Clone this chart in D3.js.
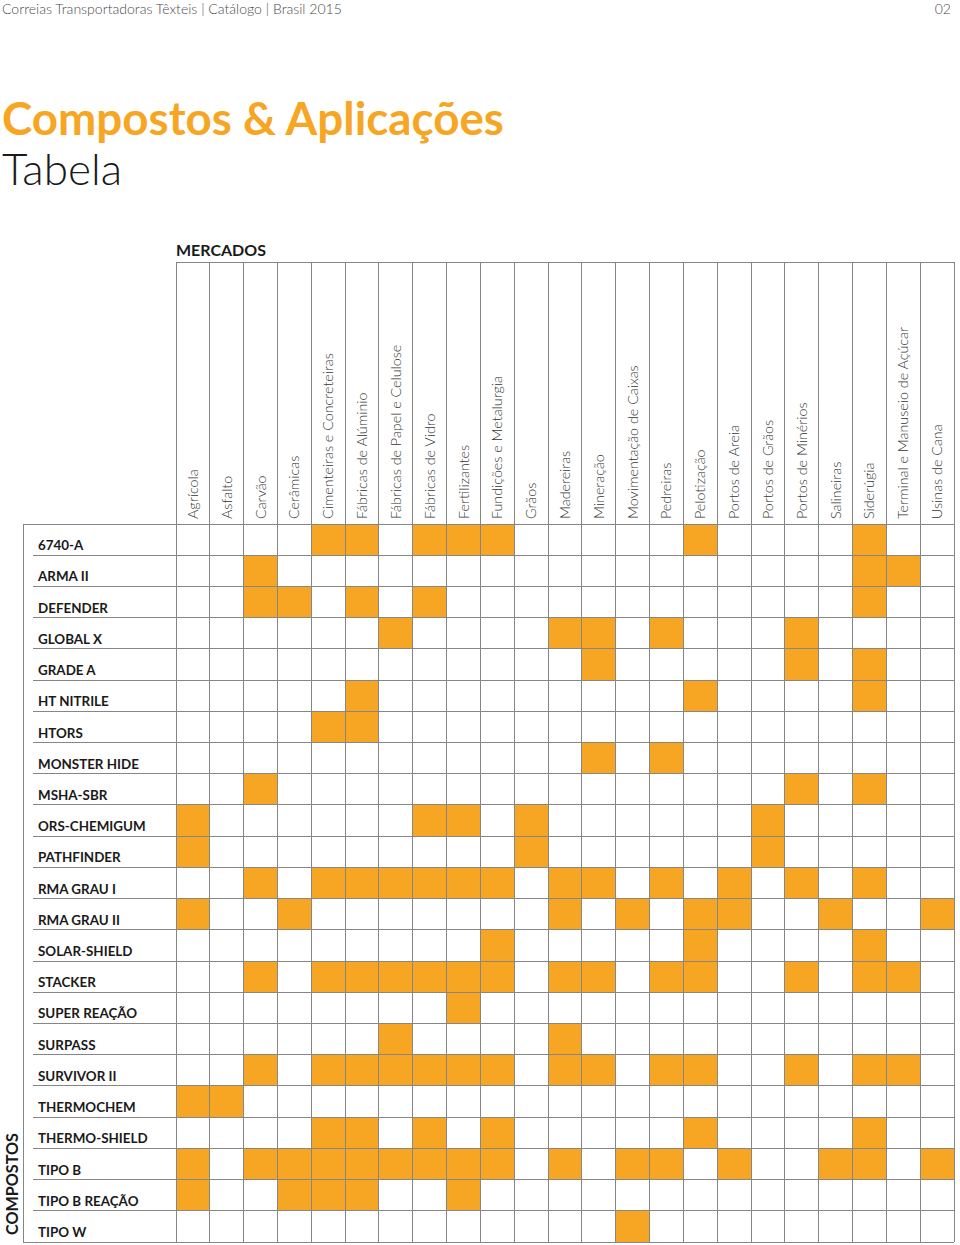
<!DOCTYPE html>
<html>
<head>
<meta charset="utf-8">
<script src="https://d3js.org/d3.v7.min.js"></script>
<style>
  body { margin: 0; background: #fff; }
  svg { display: block; font-family: Lato, "Open Sans", sans-serif; }
</style>
</head>
<body>
<div id="chart"></div>
<script>
// Markets (columns) and compounds (rows) of the table
var markets = ["Agrícola", "Asfalto", "Carvão", "Cerâmicas", "Cimenteiras e Concreteiras",
  "Fábricas de Alúminio", "Fábricas de Papel e Celulose", "Fábricas de Vidro", "Fertilizantes",
  "Fundições e Metalurgia", "Grãos", "Madereiras", "Mineração", "Movimentação de Caixas",
  "Pedreiras", "Pelotização", "Portos de Areia", "Portos de Grãos", "Portos de Minérios",
  "Salineiras", "Siderúgia", "Terminal e Manuseio de Açúcar", "Usinas de Cana"];

var compounds = ["6740-A", "ARMA II", "DEFENDER", "GLOBAL X", "GRADE A", "HT NITRILE", "HTORS",
  "MONSTER HIDE", "MSHA-SBR", "ORS-CHEMIGUM", "PATHFINDER", "RMA GRAU I", "RMA GRAU II",
  "SOLAR-SHIELD", "STACKER", "SUPER REAÇÃO", "SURPASS", "SURVIVOR II", "THERMOCHEM",
  "THERMO-SHIELD", "TIPO B", "TIPO B REAÇÃO", "TIPO W"];

// Marked markets for each compound (index into markets)
var applications = [
  [4, 5, 7, 8, 9, 15, 20],
  [2, 20, 21],
  [2, 3, 5, 7, 20],
  [6, 11, 12, 14, 18],
  [12, 18, 20],
  [5, 15, 20],
  [4, 5],
  [12, 14],
  [2, 18, 20],
  [0, 7, 8, 10, 17],
  [0, 10, 17],
  [2, 4, 5, 6, 7, 8, 9, 11, 12, 14, 16, 18, 20],
  [0, 3, 11, 13, 15, 16, 19, 22],
  [9, 15, 20],
  [2, 4, 5, 6, 7, 8, 9, 11, 12, 14, 15, 18, 20, 21],
  [8],
  [6, 11],
  [2, 4, 5, 6, 7, 8, 9, 11, 12, 14, 15, 18, 20, 21],
  [0, 1],
  [4, 5, 7, 9, 15, 20],
  [0, 2, 3, 4, 5, 6, 7, 8, 9, 11, 13, 14, 16, 19, 20, 22],
  [0, 3, 4, 5, 8],
  [13]
];

var w = 960, h = 1245;
var gridLeft = 176, gridRight = 954, headTop = 262, gridTop = 524, gridBottom = 1242;
var orange = "#f6a623", lineColor = "#868686";

var svg = d3.select("#chart").append("svg")
  .attr("width", w)
  .attr("height", h);

// Scales
var xScale = d3.scaleBand().domain(markets).range([gridLeft, gridRight]);
var yScale = d3.scaleBand().domain(compounds).range([gridTop, gridBottom]);

function fitText(sel, width) {
  var fs = parseFloat(sel.attr("font-size"));
  sel.attr("font-size", fs * width / sel.node().getComputedTextLength());
}

// Page header
svg.append("text")
  .attr("x", 2).attr("y", 14)
  .attr("font-size", 14).attr("font-weight", 300).attr("fill", "#4a4a4a")
  .text("Correias Transportadoras Têxteis | Catálogo | Brasil 2015")
  .call(fitText, 340);
svg.append("text")
  .attr("x", 951).attr("y", 14)
  .attr("text-anchor", "end")
  .attr("font-size", 14).attr("font-weight", 300).attr("fill", "#4a4a4a")
  .text("02");

// Title
svg.append("text")
  .attr("x", 2).attr("y", 135)
  .attr("font-size", 42).attr("font-weight", 700).attr("fill", orange)
  .text("Compostos & Aplicações")
  .call(fitText, 502);
svg.append("text")
  .attr("x", 2).attr("y", 185)
  .attr("font-size", 44).attr("font-weight", 300).attr("fill", "#1a1a1a")
  .text("Tabela")
  .call(fitText, 120);

// Section labels
svg.append("text")
  .attr("x", gridLeft).attr("y", 256)
  .attr("font-size", 16).attr("font-weight", 700).attr("fill", "#1a1a1a")
  .text("MERCADOS")
  .call(fitText, 90);
svg.append("text")
  .attr("transform", "translate(18,1235) rotate(-90)")
  .attr("font-size", 16).attr("font-weight", 700).attr("fill", "#1a1a1a")
  .text("COMPOSTOS")
  .call(fitText, 102);

// Filled cells
var cells = [];
applications.forEach(function(cols, i) {
  cols.forEach(function(c) { cells.push({ compound: compounds[i], market: markets[c] }); });
});
svg.selectAll("rect.cell").data(cells).enter().append("rect")
  .attr("class", "cell")
  .attr("x", function(d) { return xScale(d.market); })
  .attr("y", function(d) { return yScale(d.compound); })
  .attr("width", xScale.bandwidth())
  .attr("height", yScale.bandwidth())
  .attr("fill", orange);

// Grid lines
var grid = svg.append("g").attr("stroke", lineColor).attr("stroke-width", 1).attr("shape-rendering", "crispEdges");
grid.selectAll("line.v").data(markets.concat([null])).enter().append("line")
  .attr("x1", function(d) { return d === null ? gridRight : xScale(d); })
  .attr("x2", function(d) { return d === null ? gridRight : xScale(d); })
  .attr("y1", headTop).attr("y2", gridBottom);
grid.append("line").attr("x1", gridLeft).attr("x2", gridRight).attr("y1", headTop).attr("y2", headTop);
grid.selectAll("line.h").data(compounds.concat([null])).enter().append("line")
  .attr("x1", function(d, i) { return (i === 0 || d === null) ? 23 : 33; })
  .attr("x2", gridRight)
  .attr("y1", function(d) { return d === null ? gridBottom : yScale(d); })
  .attr("y2", function(d) { return d === null ? gridBottom : yScale(d); });
grid.append("line").attr("x1", 23).attr("x2", 23).attr("y1", gridTop).attr("y2", gridBottom);

// Column labels
svg.selectAll("text.market").data(markets).enter().append("text")
  .attr("class", "market")
  .attr("transform", function(d) { return "translate(" + (xScale(d) + xScale.bandwidth() / 2 + 5) + "," + 519 + ") rotate(-90)"; })
  .attr("font-size", 14.3).attr("font-weight", 300).attr("fill", "#333")
  .text(function(d) { return d; });

// Row labels
svg.selectAll("text.compound").data(compounds).enter().append("text")
  .attr("class", "compound")
  .attr("x", 38)
  .attr("y", function(d) { return yScale(d) + yScale.bandwidth() - 5; })
  .attr("font-size", 13.4).attr("font-weight", 700).attr("fill", "#1a1a1a")
  .text(function(d) { return d; });
</script>
</body>
</html>
